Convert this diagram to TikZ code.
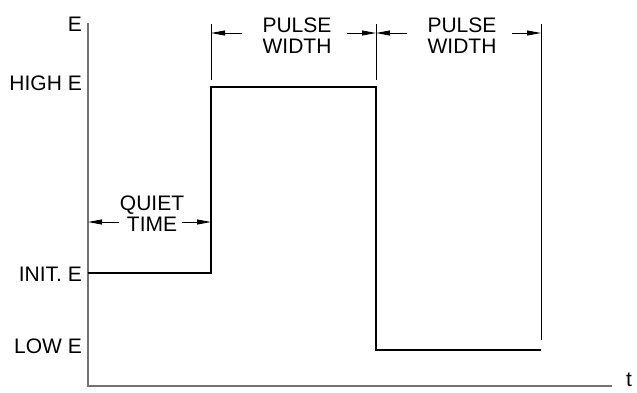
\documentclass[tikz,border=0pt]{standalone}
\usepackage{fontspec}
\setmainfont{Liberation Sans}
\usetikzlibrary{arrows.meta, positioning}

\begin{document}
\begin{tikzpicture}[x=1pt, y=-1pt,
    axis/.style={draw=black!55, line width=1.1pt},
    signal/.style={draw=black, line width=1.8pt, line join=miter},
    extline/.style={draw=black, line width=0.9pt},
    dimarrow/.style={-{Triangle[length=14pt, width=5pt]}, draw=black, line width=0.9pt},
    lbl/.style={font=\fontsize{21}{21}\selectfont, inner sep=0pt, align=center}
]
\useasboundingbox (0,0) rectangle (637,392);
% axes
\coordinate (ytop) at (88,23);
\coordinate (origin) at (88,386);
\coordinate (xend) at (612,386);
\draw[axis] (ytop) -- (origin) -- (xend);
\node[lbl, anchor=base east] (elabel) at (82,31) {E};
\node[lbl, anchor=base west] (tlabel) at (626,386) {t};
% level labels
\node[lbl, anchor=base east] (highlbl) at (82,90) {HIGH E};
\node[lbl, anchor=base east] (initlbl) at (82,281) {INIT. E};
\node[lbl, anchor=base east] (lowlbl) at (82,353) {LOW E};
% waveform
\coordinate (init0) at (88,273);
\coordinate (rise0) at (211,273);
\coordinate (rise1) at (211,87);
\coordinate (fall0) at (376,87);
\coordinate (fall1) at (376,350);
\coordinate (lowend) at (541,350);
\draw[signal] (init0) -- (rise0) -- (rise1) -- (fall0) -- (fall1) -- (lowend);
% extension lines
\coordinate (ext1top) at (211,24);
\coordinate (ext1bot) at (211,80);
\coordinate (ext2top) at (376,24);
\coordinate (ext2bot) at (376,80);
\coordinate (ext3top) at (541,24);
\coordinate (ext3bot) at (541,340);
\draw[extline] (ext1top) -- (ext1bot);
\draw[extline] (ext2top) -- (ext2bot);
\draw[extline] (ext3top) -- (ext3bot);
% dimension texts
\node[lbl] (quiet) at (152,214) {QUIET\\TIME};
\node[lbl] (pulse1) at (297,36) {PULSE\\WIDTH};
\node[lbl] (pulse2) at (462,36) {PULSE\\WIDTH};
% dimension arrows
\coordinate (qtail1) at (119,222);
\coordinate (qtip1) at (88,222);
\coordinate (qtail2) at (182,222);
\coordinate (qtip2) at (211,222);
\coordinate (p1tail1) at (242,33);
\coordinate (p1tip1) at (211,33);
\coordinate (p1tail2) at (347,33);
\coordinate (p1tip2) at (376,33);
\coordinate (p2tail1) at (407,33);
\coordinate (p2tip1) at (376,33);
\coordinate (p2tail2) at (512,33);
\coordinate (p2tip2) at (541,33);
\draw[dimarrow] (qtail1) -- (qtip1);
\draw[dimarrow] (qtail2) -- (qtip2);
\draw[dimarrow] (p1tail1) -- (p1tip1);
\draw[dimarrow] (p1tail2) -- (p1tip2);
\draw[dimarrow] (p2tail1) -- (p2tip1);
\draw[dimarrow] (p2tail2) -- (p2tip2);
\end{tikzpicture}
\end{document}
